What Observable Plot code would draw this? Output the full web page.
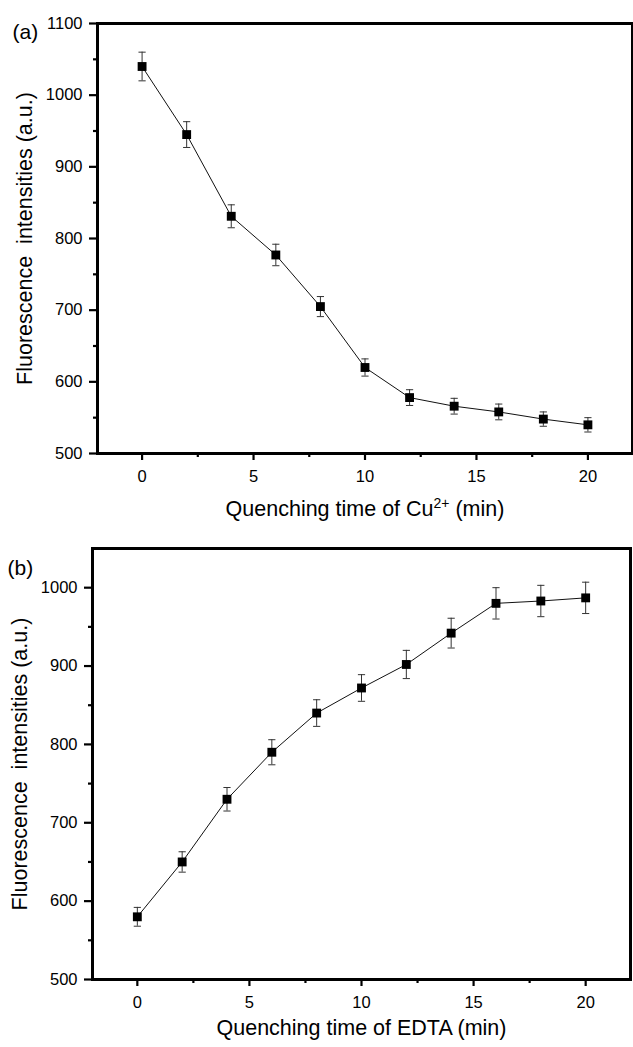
<!DOCTYPE html>
<html>
<head>
<meta charset="utf-8">
<script src="https://cdn.jsdelivr.net/npm/d3@7"></script>
<script src="https://cdn.jsdelivr.net/npm/@observablehq/plot@0.6"></script>
<style>
  html, body { margin: 0; padding: 0; background: #fff; }
  #chart svg { display: block; }
</style>
</head>
<body>
<div id="chart"></div>
<script>
// ---- data ----
const times = [0, 2, 4, 6, 8, 10, 12, 14, 16, 18, 20];
const cuIntensity = [1040, 945, 831, 777, 705, 620, 578, 566, 558, 548, 540];
const cuError = [20, 18, 16, 15, 14, 12, 11, 11, 11, 10, 10];
const edtaIntensity = [580, 650, 730, 790, 840, 872, 902, 942, 980, 983, 987];
const edtaError = [12, 13, 15, 16, 17, 17, 18, 19, 20, 20, 20];

const xMajor = [0, 5, 10, 15, 20];
const xMinor = [2.5, 7.5, 12.5, 17.5];
const yMajorA = [500, 600, 700, 800, 900, 1000, 1100];
const yMinorA = [550, 650, 750, 850, 950, 1050];
const yMajorB = [500, 600, 700, 800, 900, 1000];
const yMinorB = [550, 650, 750, 850, 950];

const yTitle = "Fluorescence  intensities (a.u.)";
const xTitleA = "Quenching time of Cu2+ (min)";
const xTitleB = "Quenching time of EDTA (min)";

const capSymbol = {
  draw(ctx, size) {
    const r = Math.sqrt(size / Math.PI);
    ctx.moveTo(-r, 0);
    ctx.lineTo(r, 0);
  }
};

function panel({values, errors, yDomain, yMajor, yMinor, height, mt, mb, ml, mr, tag, tagDy, xTitle, xTitleDy}) {
  const rows = times.map((t, i) => ({t, v: values[i], lo: values[i] - errors[i], hi: values[i] + errors[i]}));
  return Plot.plot({
    width: 633,
    height,
    marginTop: mt, marginBottom: mb, marginLeft: ml, marginRight: mr,
    style: {fontFamily: "'Liberation Sans', Arial, sans-serif", fontSize: "16.5px", color: "#000", background: "#fff"},
    x: {domain: [-2, 22], axis: null},
    y: {domain: yDomain, axis: null},
    marks: [
      Plot.axisY({ticks: yMajor, tickSize: 8, tickPadding: 7, stroke: "#000", strokeWidth: 2.2, label: null, tickFormat: d => String(d)}),
      Plot.axisY({ticks: yMinor, tickSize: 4, stroke: "#000", strokeWidth: 2.2, label: null, tickFormat: () => ""}),
      Plot.axisX({ticks: xMajor, tickSize: 7, tickPadding: 10, stroke: "#000", strokeWidth: 2.2, label: null, tickFormat: d => String(d)}),
      Plot.axisX({ticks: xMinor, tickSize: 4, stroke: "#000", strokeWidth: 2.2, label: null, tickFormat: () => ""}),
      Plot.frame({stroke: "#000", strokeWidth: 3}),
      Plot.ruleX(rows, {x: "t", y1: "lo", y2: "hi", stroke: "#333", strokeWidth: 1}),
      Plot.dot(rows, {x: "t", y: "lo", symbol: capSymbol, r: 3.6, stroke: "#333", strokeWidth: 1, fill: "none"}),
      Plot.dot(rows, {x: "t", y: "hi", symbol: capSymbol, r: 3.6, stroke: "#333", strokeWidth: 1, fill: "none"}),
      Plot.line(rows, {x: "t", y: "v", stroke: "#111", strokeWidth: 1}),
      Plot.dot(rows, {x: "t", y: "v", symbol: "square", r: 5, fill: "#000", stroke: "none"}),
      Plot.text([yTitle], {frameAnchor: "left", dx: -72, rotate: -90, textAnchor: "middle", lineAnchor: "middle", fontSize: 21.5, fill: "#000", text: d => d}),
      Plot.text([xTitle], {frameAnchor: "bottom", dy: xTitleDy, textAnchor: "middle", lineAnchor: "middle", fontSize: 21.5, fill: "#000", text: d => d}),
      Plot.text([tag], {frameAnchor: "top-left", dx: -85, dy: tagDy, textAnchor: "start", lineAnchor: "middle", fontSize: 21, fill: "#000", text: d => d})
    ]
  });
}

const chart = document.getElementById("chart");

const svgA = panel({
  values: cuIntensity, errors: cuError,
  yDomain: [500, 1100], yMajor: yMajorA, yMinor: yMinorA,
  height: 525, mt: 23, mb: 72, ml: 97, mr: 1,
  tag: "(a)", tagDy: 9, xTitle: xTitleA, xTitleDy: 56
});
chart.appendChild(svgA);

const svgB = panel({
  values: edtaIntensity, errors: edtaError,
  yDomain: [500, 1050], yMajor: yMajorB, yMinor: yMinorB,
  height: 522, mt: 23, mb: 68, ml: 92, mr: 3,
  tag: "(b)", tagDy: 20, xTitle: xTitleB, xTitleDy: 49
});
chart.appendChild(svgB);

// superscript for Cu2+
const ns = "http://www.w3.org/2000/svg";
for (const t of svgA.querySelectorAll("text")) {
  if (t.textContent === xTitleA) {
    while (t.firstChild) t.removeChild(t.firstChild);
    t.appendChild(document.createTextNode("Quenching time of Cu"));
    const sup = document.createElementNS(ns, "tspan");
    sup.setAttribute("dy", "-8");
    sup.setAttribute("font-size", "14");
    sup.textContent = "2+";
    t.appendChild(sup);
    const rest = document.createElementNS(ns, "tspan");
    rest.setAttribute("dy", "8");
    rest.textContent = " (min)";
    t.appendChild(rest);
  }
}
</script>
</body>
</html>
